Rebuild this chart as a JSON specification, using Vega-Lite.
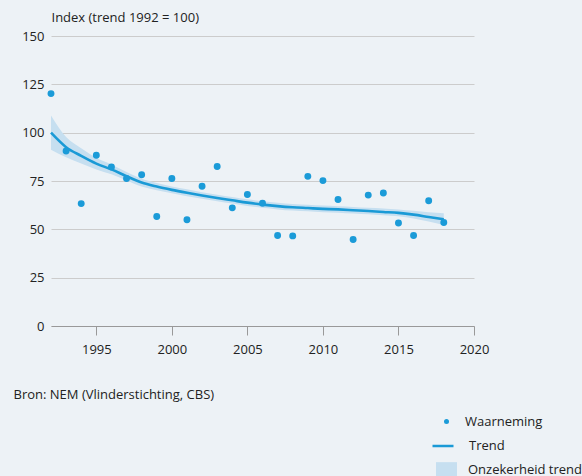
{
  "$schema": "https://vega.github.io/schema/vega-lite/v6.json",
  "autosize": {"type": "none"},
  "padding": {"left": 51, "top": 36, "right": 108, "bottom": 150},
  "width": 423,
  "height": 290,
  "background": "#edf2f6",
  "config": {
    "view": {"stroke": null},
    "font": "Open Sans",
    "text": {"font": "Open Sans"},
    "axis": {"labelFont": "Open Sans", "titleFont": "Open Sans", "labelColor": "#222222", "titleColor": "#222222", "labelFontSize": 13, "titleFontSize": 13, "titleFontWeight": "normal"},
    "legend": {"labelFont": "Open Sans", "labelFontSize": 13, "labelColor": "#222222", "padding": 0}
  },
  "data": {
    "values": [
      {"year": 1992, "obs": 120.2, "trend": 100.0, "lo": 91.2, "hi": 108.9},
      {"year": 1993, "obs": 90.5, "trend": 92.5, "lo": 87.3, "hi": 97.8},
      {"year": 1994, "obs": 63.3, "trend": 88.0, "lo": 84.0, "hi": 92.0},
      {"year": 1995, "obs": 88.3, "trend": 84.0, "lo": 81.0, "hi": 87.0},
      {"year": 1996, "obs": 82.2, "trend": 81.0, "lo": 78.5, "hi": 83.5},
      {"year": 1997, "obs": 76.3, "trend": 77.5, "lo": 75.3, "hi": 79.7},
      {"year": 1998, "obs": 78.2, "trend": 74.2, "lo": 72.2, "hi": 76.2},
      {"year": 1999, "obs": 56.6, "trend": 72.1, "lo": 70.2, "hi": 74.0},
      {"year": 2000, "obs": 76.3, "trend": 70.4, "lo": 68.6, "hi": 72.2},
      {"year": 2001, "obs": 55.0, "trend": 68.9, "lo": 67.1, "hi": 70.7},
      {"year": 2002, "obs": 72.3, "trend": 67.5, "lo": 65.8, "hi": 69.2},
      {"year": 2003, "obs": 82.5, "trend": 66.2, "lo": 64.5, "hi": 67.9},
      {"year": 2004, "obs": 61.1, "trend": 65.0, "lo": 63.3, "hi": 66.7},
      {"year": 2005, "obs": 68.0, "trend": 63.8, "lo": 62.1, "hi": 65.5},
      {"year": 2006, "obs": 63.5, "trend": 62.8, "lo": 61.1, "hi": 64.5},
      {"year": 2007, "obs": 46.8, "trend": 62.0, "lo": 60.3, "hi": 63.7},
      {"year": 2008, "obs": 46.6, "trend": 61.4, "lo": 59.7, "hi": 63.1},
      {"year": 2009, "obs": 77.4, "trend": 61.0, "lo": 59.3, "hi": 62.7},
      {"year": 2010, "obs": 75.2, "trend": 60.6, "lo": 58.9, "hi": 62.3},
      {"year": 2011, "obs": 65.4, "trend": 60.3, "lo": 58.6, "hi": 62.0},
      {"year": 2012, "obs": 44.7, "trend": 59.9, "lo": 58.2, "hi": 61.6},
      {"year": 2013, "obs": 67.7, "trend": 59.5, "lo": 57.8, "hi": 61.2},
      {"year": 2014, "obs": 68.8, "trend": 59.0, "lo": 57.3, "hi": 60.8},
      {"year": 2015, "obs": 53.3, "trend": 58.5, "lo": 56.8, "hi": 60.3},
      {"year": 2016, "obs": 46.8, "trend": 57.6, "lo": 55.6, "hi": 59.6},
      {"year": 2017, "obs": 64.8, "trend": 56.4, "lo": 54.0, "hi": 58.9},
      {"year": 2018, "obs": 53.5, "trend": 55.2, "lo": 52.3, "hi": 58.3}
    ]
  },
  "encoding": {
    "x": {
      "field": "year", "type": "quantitative",
      "scale": {"domain": [1992, 2020], "nice": false, "zero": false},
      "axis": {
        "values": [1995, 2000, 2005, 2010, 2015, 2020], "format": "d",
        "grid": false, "domainColor": "#999999", "tickColor": "#999999", "tickSize": 9,
        "labelPadding": 8, "labelFlush": false,
        "title": "Bron: NEM (Vlinderstichting, CBS)",
        "titleX": -38, "titleY": 68, "titleAlign": "left", "titleBaseline": "middle", "titleAnchor": "start"
      }
    }
  },
  "layer": [
    {
      "mark": {"type": "area", "opacity": 1, "interpolate": "monotone"},
      "encoding": {
        "y": {"field": "lo", "type": "quantitative",
          "scale": {"domain": [0, 150], "nice": false},
          "axis": {
            "values": [0, 25, 50, 75, 100, 125, 150],
            "domain": false, "ticks": false, "gridColor": "#cccccc", "labelPadding": 7, "labelFlush": false,
            "title": "Index (trend 1992 = 100)",
            "titleAngle": 0, "titleX": 0, "titleY": -19, "titleAlign": "left", "titleBaseline": "middle"
          }
        },
        "y2": {"field": "hi"},
        "fill": {"datum": "Onzekerheid trend", "type": "nominal",
          "scale": {"range": ["#c6dff0"]},
          "legend": {"title": null, "orient": "none", "legendX": 384, "legendY": 422,
            "symbolType": "M-1,-0.7H1V0.7H-1Z", "symbolSize": 441, "labelOffset": 10, "symbolOpacity": 1}
        }
      }
    },
    {
      "mark": {"type": "line", "strokeWidth": 2.6, "interpolate": "monotone"},
      "encoding": {
        "y": {"field": "trend", "type": "quantitative"},
        "stroke": {"datum": "Trend", "type": "nominal",
          "scale": {"range": ["#1a9ad6"]},
          "legend": {"title": null, "orient": "none", "legendX": 380, "legendY": 398,
            "symbolType": "stroke", "symbolSize": 441, "symbolStrokeWidth": 2.5, "labelOffset": 14}
        }
      }
    },
    {
      "mark": {"type": "point", "filled": true, "opacity": 1, "size": 48, "clip": false},
      "encoding": {
        "y": {"field": "obs", "type": "quantitative"},
        "color": {"datum": "Waarneming", "type": "nominal",
          "scale": {"range": ["#1b9bd8"]},
          "legend": {"title": null, "orient": "none", "legendX": 389, "legendY": 379,
            "symbolType": "circle", "symbolSize": 25, "labelOffset": 12, "symbolOpacity": 1}
        }
      }
    }
  ]
}
